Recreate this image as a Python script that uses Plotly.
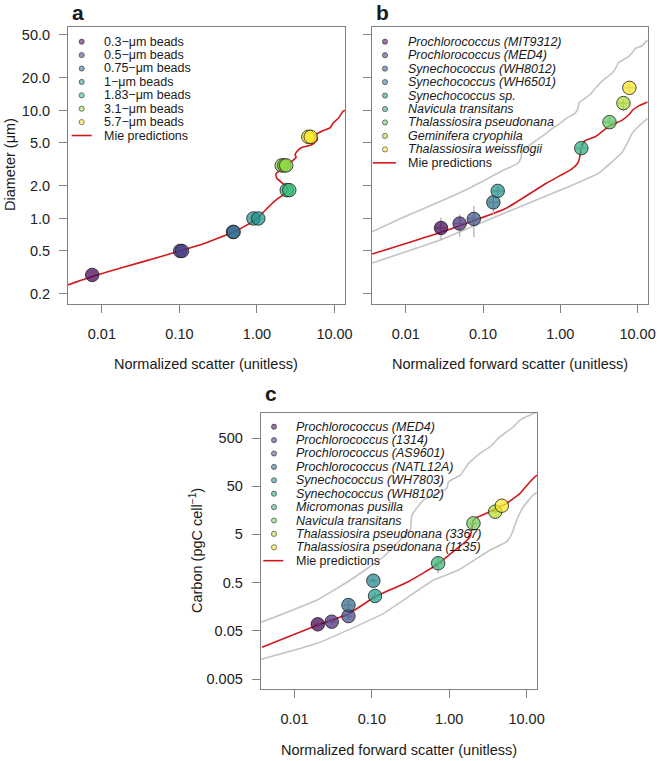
import plotly.graph_objects as go

W, H = 657, 761
FONT = "Liberation Sans, Arial, sans-serif"

# ---------------- Panel a : beads ----------------
bead_names = ["0.3−μm beads", "0.5−μm beads", "0.75−μm beads", "1−μm beads",
              "1.83−μm beads", "3.1−μm beads", "5.7−μm beads"]
bead_colors = ["#440154", "#443A83", "#31688E", "#21908C", "#35B779", "#8FD744", "#FDE725"]
bead_scatter = [[0.0075], [0.102, 0.108], [0.49, 0.50], [0.90, 1.04],
                [2.42, 2.61], [2.08, 2.25, 2.38], [4.59, 4.93]]
bead_diam = [0.3, 0.5, 0.75, 1.0, 1.83, 3.1, 5.7]

mie_a_x = [0.00363, 0.0075, 0.02, 0.05, 0.1, 0.2, 0.5, 0.7, 1.0, 1.62, 2.30, 2.54,
           2.18, 1.79, 1.76, 1.98, 2.42, 2.94, 3.2, 3.1, 3.3, 3.77, 5.08, 6.0, 5.77,
           7.18, 8.75, 9.67, 11.2, 13.0, 13.7]
mie_a_y = [0.242, 0.29, 0.358, 0.43, 0.50, 0.58, 0.75, 0.85, 1.0, 1.41, 1.71, 1.85,
           2.09, 2.37, 2.60, 2.79, 3.11, 3.47, 3.7, 3.9, 4.2, 4.54, 4.81, 5.36, 5.97,
           6.52, 6.9, 7.7, 8.46, 9.9, 10.0]

# ---------------- Panel b : cultures, diameter ----------------
b_names = ["Prochlorococcus (MIT9312)", "Prochlorococcus (MED4)", "Synechococcus (WH8012)",
           "Synechococcus (WH6501)", "Synechococcus sp.", "Navicula transitans",
           "Thalassiosira pseudonana", "Geminifera cryophila", "Thalassiosira weissflogii"]
b_colors = ["#440154", "#472D7B", "#3B528B", "#2C728E", "#21908C", "#27AD81",
            "#5DC863", "#AADC32", "#FDE725"]
b_x = [0.0286, 0.0498, 0.076, 0.136, 0.155, 1.87, 4.33, 6.56, 7.83]
b_y = [0.817, 0.897, 0.99, 1.41, 1.80, 4.48, 7.8, 11.7, 16.2]
b_y_lo = [0.627, 0.68, 0.67, 1.09, 1.62, 4.0, 7.1, 9.9, 14.8]
b_y_hi = [1.02, 1.09, 1.31, 1.62, 2.0, 5.0, 8.6, 12.6, 17.8]
b_x_lo = [0.024, 0.042, 0.064, 0.115, 0.13, 1.6, 3.7, 5.6, 6.7]
b_x_hi = [0.034, 0.059, 0.090, 0.160, 0.185, 2.2, 5.1, 7.7, 9.2]

mie_b_x = [0.00367, 0.0267, 0.193, 0.66, 1.40, 1.67, 1.77, 1.87, 2.06, 2.91, 4.33,
           6.18, 7.83, 8.65, 10.5, 13.4]
mie_b_y = [0.468, 0.733, 1.23, 2.12, 2.86, 3.23, 3.6, 4.48, 5.21, 5.77, 7.2,
           8.05, 9.23, 10.1, 11.1, 12.0]
upper_b_x = [0.00367, 0.0098, 0.0269, 0.0716, 0.191, 0.281, 0.308, 0.317, 0.402, 0.591,
             0.773, 0.98, 1.24, 1.53, 1.67, 1.77, 2.39, 2.94, 3.73, 4.59, 5.17, 5.65,
             7.38, 8.57, 9.37, 11.2, 13.4]
upper_b_y = [0.754, 1.045, 1.42, 1.96, 2.84, 3.23, 3.60, 4.02, 4.78, 5.81,
             6.76, 7.54, 8.59, 9.37, 10.2, 11.9, 13.9, 16.5, 19.6, 21.9, 24.4, 27.7,
             31.0, 34.5, 37.6, 39.3, 44.8]
lower_b_x = [0.00367, 0.0267, 0.193, 1.40, 3.21, 4.73, 6.18, 7.38, 8.57, 10.5, 13.4]
lower_b_y = [0.387, 0.624, 1.13, 2.02, 2.66, 3.38, 4.02, 4.99, 6.2, 7.22, 8.4]

# ---------------- Panel c : cultures, carbon ----------------
c_names = ["Prochlorococcus (MED4)", "Prochlorococcus (1314)", "Prochlorococcus (AS9601)",
           "Prochlorococcus (NATL12A)", "Synechococcus (WH7803)", "Synechococcus (WH8102)",
           "Micromonas pusilla", "Navicula transitans", "Thalassiosira pseudonana (3367)",
           "Thalassiosira pseudonana (1135)"]
c_colors = ["#440154", "#482878", "#3E4A89", "#31688E", "#26828E", "#1F9E89",
            "#35B779", "#6DCD59", "#B4DE2C", "#FDE725"]
c_x = [0.020, 0.0303, 0.0498, 0.0498, 0.1045, 0.110, 0.72, 2.06, 3.93, 4.79]
c_y = [0.0682, 0.0773, 0.101, 0.171, 0.547, 0.264, 1.26, 8.5, 14.8, 19.7]
c_y_lo = [0.062, 0.070, 0.085, 0.14, 0.50, 0.22, 0.78, 7.8, 14.0, 18.5]
c_y_hi = [0.075, 0.085, 0.12, 0.21, 0.60, 0.32, 1.72, 9.3, 15.6, 21.0]
c_x_lo = [0.018, 0.027, 0.044, 0.044, 0.094, 0.099, 0.64, 1.85, 3.6, 4.4]
c_x_hi = [0.022, 0.034, 0.056, 0.056, 0.116, 0.122, 0.81, 2.3, 4.3, 5.2]

mie_c_x = [0.0038, 0.020, 0.0498, 0.110, 0.296, 0.72, 1.28, 1.65, 1.87, 1.96, 2.04,
           2.25, 2.51, 3.73, 5.56, 8.24, 11.1, 13.6]
mie_c_y = [0.0227, 0.066, 0.112, 0.255, 0.522, 1.22, 2.6, 3.6, 4.6, 6.5, 9.5,
           11.2, 12.0, 16.0, 22.1, 35.6, 62, 85]
upper_c_x = [0.0037, 0.0196, 0.0528, 0.142, 0.257, 0.314, 0.330, 0.466, 0.627, 0.933,
             0.98, 1.39, 1.78, 2.51, 3.38, 4.55, 6.76, 8.24, 11.1, 13.6]
upper_c_y = [0.075, 0.218, 0.566, 1.72, 4.48, 6.17, 12.6, 25.9, 32.8, 45.2,
             62, 85, 149, 241, 330, 532, 857, 1180, 1500, 1730]
lower_c_x = [0.0037, 0.0196, 0.142, 0.627, 1.32, 3.38, 5.56, 6.5, 7.46, 9.1, 12.2, 13.6]
lower_c_y = [0.0128, 0.0275, 0.115, 0.566, 0.912, 2.37, 3.53, 5.35, 9.95, 18.8, 32.8, 37.9]

x_ticks = [0.01, 0.1, 1, 10]
x_ticktext = ["0.01", "0.10", "1.00", "10.00"]
d_ticks = [0.2, 0.5, 1, 2, 5, 10, 20, 50]
d_ticktext = ["0.2", "0.5", "1.0", "2.0", "5.0", "10.0", "20.0", "50.0"]
c_ticks = [0.005, 0.05, 0.5, 5, 50, 500]
c_ticktext = ["0.005", "0.05", "0.5", "5", "50", "500"]

RED = "#D0191C"
GRAY = "#C4C4C4"
ALPHA = 0.72


def rgba(hexc, a):
    h = hexc.lstrip("#")
    return "rgba(%d,%d,%d,%g)" % (int(h[0:2], 16), int(h[2:4], 16), int(h[4:6], 16), a)


fig = go.Figure()


def add_line(xs, ys, color, xa, ya, width=1.6):
    fig.add_trace(go.Scatter(x=xs, y=ys, mode="lines", xaxis=xa, yaxis=ya,
                             line=dict(color=color, width=width, shape="spline", smoothing=0.4),
                             showlegend=False, hoverinfo="skip"))


add_line(upper_b_x, upper_b_y, GRAY, "x2", "y2")
add_line(lower_b_x, lower_b_y, GRAY, "x2", "y2")
add_line(upper_c_x, upper_c_y, GRAY, "x3", "y3")
add_line(lower_c_x, lower_c_y, GRAY, "x3", "y3")
add_line(mie_a_x, mie_a_y, RED, "x", "y")
add_line(mie_b_x, mie_b_y, RED, "x2", "y2")
add_line(mie_c_x, mie_c_y, RED, "x3", "y3")

MK = 13.5
for name, col, xs, d in zip(bead_names, bead_colors, bead_scatter, bead_diam):
    fig.add_trace(go.Scatter(x=xs, y=[d] * len(xs), mode="markers", name=name,
                             xaxis="x", yaxis="y", showlegend=False,
                             marker=dict(size=MK, color=rgba(col, ALPHA),
                                         line=dict(color="rgba(30,30,30,0.8)", width=1))))


def add_points(names, cols, xs, ys, ylo, yhi, xlo, xhi, xa, ya):
    for i in range(len(names)):
        fig.add_trace(go.Scatter(
            x=[xs[i]], y=[ys[i]], mode="markers", name=names[i], xaxis=xa, yaxis=ya,
            showlegend=False,
            error_y=dict(type="data", symmetric=False, array=[yhi[i] - ys[i]],
                         arrayminus=[ys[i] - ylo[i]], color="#B0B0B0", thickness=1.3, width=0),
            error_x=dict(type="data", symmetric=False, array=[xhi[i] - xs[i]],
                         arrayminus=[xs[i] - xlo[i]], color="#B0B0B0", thickness=1.3, width=0),
            marker=dict(size=MK, color=rgba(cols[i], ALPHA),
                        line=dict(color="rgba(30,30,30,0.8)", width=1))))


add_points(b_names, b_colors, b_x, b_y, b_y_lo, b_y_hi, b_x_lo, b_x_hi, "x2", "y2")
add_points(c_names, c_colors, c_x, c_y, c_y_lo, c_y_hi, c_x_lo, c_x_hi, "x3", "y3")


def px_x(p):
    return p / W


def px_y(p):
    return 1 - p / H


AXC = "#808080"
base = dict(type="log", showline=True, mirror=True, linecolor=AXC, linewidth=1,
            ticks="outside", ticklen=8, tickcolor=AXC, tickwidth=1, showgrid=False,
            zeroline=False, automargin=False,
            tickfont=dict(family=FONT, size=14.5, color="#222222"))
XR = [-2.437, 1.135]
fig.update_layout(
    xaxis=dict(base, domain=[px_x(68), px_x(345)], range=XR, anchor="y",
               tickvals=x_ticks, ticktext=x_ticktext, ticklabelstandoff=9),
    yaxis=dict(base, domain=[px_y(304), px_y(27)], range=[-0.792, 1.773], anchor="x",
               tickvals=d_ticks, ticktext=d_ticktext, ticklabelstandoff=6),
    xaxis2=dict(base, domain=[px_x(372), px_x(648)], range=XR, anchor="y2",
                tickvals=x_ticks, ticktext=x_ticktext, ticklabelstandoff=9),
    yaxis2=dict(base, domain=[px_y(304), px_y(27)], range=[-0.792, 1.773], anchor="x2",
                tickvals=d_ticks, showticklabels=False),
    xaxis3=dict(base, domain=[px_x(260.7), px_x(537)], range=XR, anchor="y3",
                tickvals=x_ticks, ticktext=x_ticktext, ticklabelstandoff=9),
    yaxis3=dict(base, domain=[px_y(689), px_y(413)], range=[-2.508, 3.218], anchor="x3",
                tickvals=c_ticks, ticktext=c_ticktext, ticklabelstandoff=6),
)

ann = []
shapes = []


def text(x, y, s, size=14.5, angle=0, bold=False, xanchor="center"):
    ann.append(dict(x=px_x(x), y=px_y(y), xref="paper", yref="paper",
                    text=("<b>%s</b>" % s) if bold else s,
                    showarrow=False, textangle=angle, xanchor=xanchor, yanchor="middle",
                    font=dict(family=FONT, size=size, color="#1a1a1a")))


text(78, 13, "a", size=21, bold=True)
text(382, 13, "b", size=21, bold=True)
text(271, 394, "c", size=21, bold=True)
text(206, 364, "Normalized scatter (unitless)")
text(510, 364, "Normalized forward scatter (unitless)")
text(399, 750, "Normalized forward scatter (unitless)")
text(10, 165, "Diameter (μm)", angle=-90)
text(196, 551, "Carbon (pgC cell<sup>−1</sup>)", angle=-90)


def legend(names, cols, dot_x, text_x, y0, dy, line_x0, line_x1, italic):
    for i, (n, c) in enumerate(zip(names, cols)):
        y = y0 + i * dy
        shapes.append(dict(type="circle", xref="paper", yref="paper",
                           x0=px_x(dot_x - 2.6), x1=px_x(dot_x + 2.6),
                           y0=px_y(y + 2.6), y1=px_y(y - 2.6),
                           fillcolor=rgba(c, 0.55), line=dict(color="rgba(40,40,40,0.7)", width=0.8)))
        ann.append(dict(x=px_x(text_x), y=px_y(y), xref="paper", yref="paper",
                        text=("<i>%s</i>" % n) if italic else n, showarrow=False,
                        xanchor="left", yanchor="middle",
                        font=dict(family=FONT, size=12.5, color="#1a1a1a")))
    y = y0 + len(names) * dy
    shapes.append(dict(type="line", xref="paper", yref="paper", x0=px_x(line_x0), x1=px_x(line_x1),
                       y0=px_y(y), y1=px_y(y), line=dict(color=RED, width=1.6)))
    ann.append(dict(x=px_x(text_x), y=px_y(y), xref="paper", yref="paper", text="Mie predictions",
                    showarrow=False, xanchor="left", yanchor="middle",
                    font=dict(family=FONT, size=12.5, color="#1a1a1a")))


legend(bead_names, bead_colors, 81.7, 101.7, 41.7, 13.4, 71.7, 91.7, False)
legend(b_names, b_colors, 385, 406, 41.7, 13.46, 372.7, 396, True)
legend(c_names, c_colors, 274, 294, 426.7, 13.4, 263.3, 283.3, True)

fig.update_layout(width=W, height=H, margin=dict(l=0, r=0, t=0, b=0, autoexpand=False),
                  paper_bgcolor="white", plot_bgcolor="white", showlegend=False,
                  annotations=ann, shapes=shapes, font=dict(family=FONT))

fig.write_html("out.html", config={"displayModeBar": False},
               post_script="document.body.style.margin='0';document.body.style.padding='0';")
